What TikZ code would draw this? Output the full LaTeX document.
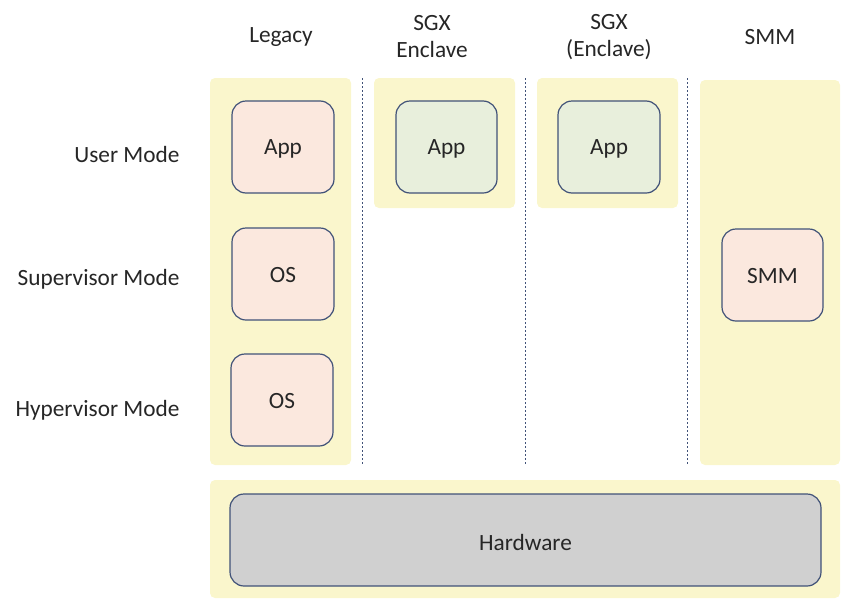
\documentclass[tikz,border=0pt]{standalone}
\usepackage{fontspec}
\setmainfont{Carlito}
\begin{document}
\begin{tikzpicture}[x=1pt,y=-1pt,
  panel/.style={fill=panelY, draw=none, rounded corners=5pt},
  unit/.style={draw=edgeB, line width=1.2pt, rounded corners=14pt},
  lbl/.style={font=\fontsize{23.3}{27}\selectfont, text=black!85},
  sep/.style={draw=edgeB, line width=0.8pt, dash pattern=on 2pt off 2pt}]
\definecolor{panelY}{HTML}{FAF6CC}
\definecolor{edgeB}{HTML}{415278}
\definecolor{pinkF}{HTML}{FBE8DE}
\definecolor{greenF}{HTML}{E8EFDC}
\definecolor{grayF}{HTML}{D0D0D0}
\useasboundingbox (0,0) rectangle (858,613);
% panels
\fill[panel] (210,78) rectangle (351,465);
\fill[panel] (374,78) rectangle (515,208);
\fill[panel] (537,78) rectangle (678,208);
\fill[panel] (700,80) rectangle (840,465);
\fill[panel] (210,480) rectangle (840,598);
% separators
\coordinate (s1a) at (362,78); \coordinate (s1b) at (362,465);
\coordinate (s2a) at (525,78); \coordinate (s2b) at (525,465);
\coordinate (s3a) at (687,78); \coordinate (s3b) at (687,465);
\draw[sep] (s1a) -- (s1b);
\draw[sep] (s2a) -- (s2b);
\draw[sep] (s3a) -- (s3b);
% boxes
\draw[unit, fill=pinkF] (232,101) rectangle (334,193);
\node[lbl] (app1) at (283,149) {App};
\draw[unit, fill=pinkF] (232,228) rectangle (334,320);
\node[lbl] (os1) at (283,275) {OS};
\draw[unit, fill=pinkF] (231,354) rectangle (333,446);
\node[lbl] (os2) at (282,401) {OS};
\draw[unit, fill=greenF] (396,101) rectangle (497,193);
\node[lbl] (app2) at (446.5,149) {App};
\draw[unit, fill=greenF] (558,101) rectangle (660,193);
\node[lbl] (app3) at (609,149) {App};
\draw[unit, fill=pinkF] (722,229) rectangle (823,321);
\node[lbl] (smm) at (772.5,276) {SMM};
\draw[unit, fill=grayF] (230,494) rectangle (821,586);
\node[lbl] (hw) at (525.5,542) {Hardware};
% column headers
\node[lbl] (h1) at (281,37) {Legacy};
\node[lbl, align=center] (h2) at (432,37) {SGX\\Enclave};
\node[lbl, align=center] (h3) at (609,37) {SGX\\(Enclave)};
\node[lbl] (h4) at (770,37) {SMM};
% row labels
\node[lbl, anchor=east] (r1) at (183,154) {User Mode};
\node[lbl, anchor=east] (r2) at (183,279) {Supervisor Mode};
\node[lbl, anchor=east] (r3) at (183,410) {Hypervisor Mode};
\end{tikzpicture}
\end{document}
